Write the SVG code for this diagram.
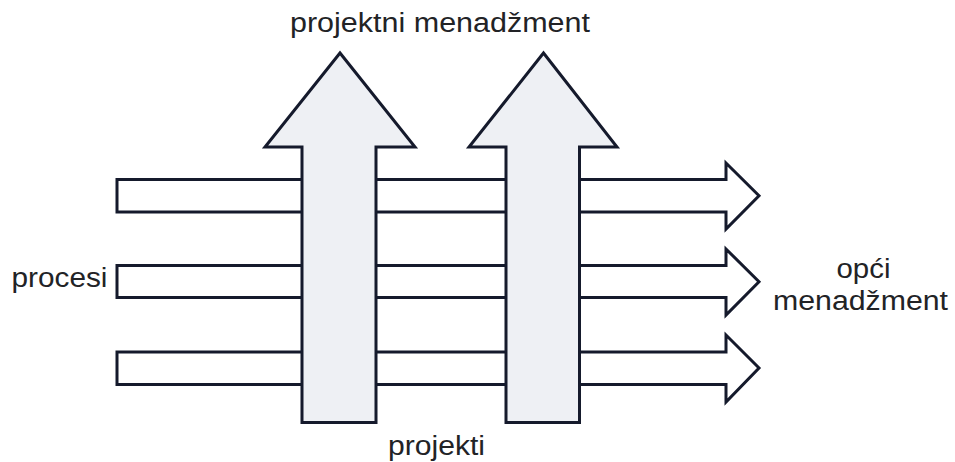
<svg xmlns="http://www.w3.org/2000/svg" width="955" height="462" viewBox="0 0 955 462">
  <style>
    .bar { fill: #ffffff; stroke: #151a2c; stroke-width: 3; stroke-linejoin: miter; }
    .up { fill: #eef0f4; stroke: #151a2c; stroke-width: 3; stroke-linejoin: miter; }
    .lbl { font-family: "Liberation Sans", Arial, sans-serif; font-size: 27px; fill: #222326; }
  </style>
  <rect x="0" y="0" width="955" height="462" fill="#ffffff"/>
  <g id="connectors">
    <path id="proc1" class="bar" d="M117,179.5 H726 V163 L759,195.7 L726,229 V212 H117 Z"/>
    <path id="proc2" class="bar" d="M117,265.5 H726 V249 L759,281.7 L726,315 V297.5 H117 Z"/>
    <path id="proc3" class="bar" d="M117,352 H726 V335 L759,368 L726,402 V384.5 H117 Z"/>
  </g>
  <g id="projekt1">
    <path class="up" d="M302,422.5 V147 H265 L340,53 L415,147 H376 V422.5 Z"/>
  </g>
  <g id="projekt2">
    <path class="up" d="M506,422.5 V147 H469 L543.5,53 L617,147 H579.5 V422.5 Z"/>
  </g>
  <g id="labels">
    <text id="lbl-pm" class="lbl" x="290" y="32" textLength="300" lengthAdjust="spacingAndGlyphs">projektni menadžment</text>
    <text id="lbl-procesi" class="lbl" x="11.5" y="287" textLength="96" lengthAdjust="spacingAndGlyphs">procesi</text>
    <text id="lbl-projekti" class="lbl" x="388" y="455" textLength="97" lengthAdjust="spacingAndGlyphs">projekti</text>
    <text id="lbl-opci" class="lbl" x="836.5" y="278" textLength="54" lengthAdjust="spacingAndGlyphs">opći</text>
    <text id="lbl-men" class="lbl" x="773" y="310" textLength="175" lengthAdjust="spacingAndGlyphs">menadžment</text>
  </g>
</svg>
